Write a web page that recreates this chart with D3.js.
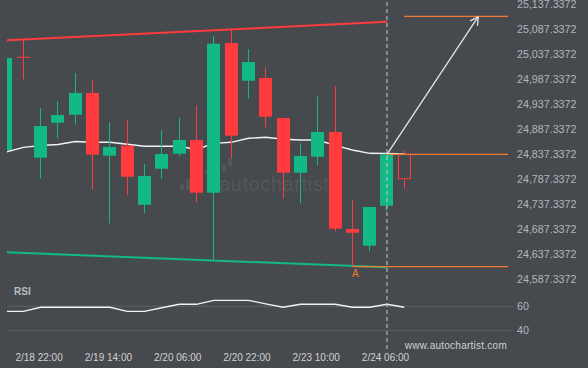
<!DOCTYPE html>
<html>
<head>
<meta charset="utf-8">
<script src="https://cdn.jsdelivr.net/npm/d3@7"></script>
<style>
  html, body { margin: 0; padding: 0; background: #46494e; }
  svg { display: block; font-family: "Liberation Sans", Arial, sans-serif; }
</style>
</head>
<body>
<div id="chart"></div>
<script>
// Chart data (4h candles, index = candle position)
const opens  = [24845.9, 25031.3, 24830.5, 24900.5, 24916.5, 24959.9, 24834.5, 24854.5, 24736.5, 24808.5, 24838.5, 24865.9,
                24760.5, 25059.9, 24984.5, 24989.9, 24909.9, 24800.5, 24832.5, 24881.9, 24687.9, 24654.5, 24734.5, 24837.3];
const highs  = [25029.9, 25065.9, 24929.9, 24943.9, 24999.9, 24987.3, 24901.3, 24905.3, 24817.9, 24885.9, 24909.9, 24935.3,
                25073.9, 25087.3, 25047.3, 25011.3, 24910.5, 24859.3, 24953.3, 24973.3, 24745.3, 24732.5, 24838.5, 24844.5];
const lows   = [24845.9, 24987.3, 24789.3, 24869.3, 24897.3, 24767.3, 24699.3, 24755.3, 24719.3, 24789.3, 24833.3, 24741.3,
                24627.3, 24828.5, 24948.5, 24891.3, 24748.5, 24739.3, 24815.3, 24683.3, 24612.5, 24643.3, 24724.5, 24768.5];
const closes = [25029.9, 25031.3, 24893.9, 24915.9, 24959.9, 24836.5, 24851.9, 24792.5, 24793.9, 24837.9, 24865.9, 24760.5,
                25058.5, 24874.5, 25021.9, 24912.5, 24800.5, 24833.9, 24881.9, 24688.5, 24680.5, 24731.9, 24837.3, 24788.5];
const maValues = [24841.9, 24851.3, 24854.9, 24856.9, 24862.9, 24861.3, 24861.3, 24857.3, 24853.3, 24853.3, 24853.3, 24846.9,
                  24859.3, 24861.3, 24869.3, 24871.3, 24867.3, 24865.9, 24865.9, 24855.3, 24845.9, 24839.3, 24838.9, 24838.0];
const rsiValues = [55.8, 55.8, 59.2, 59.2, 59.2, 59.2, 59.2, 55.8, 55.8, 58.8, 61.7, 61.7,
                   65.0, 65.0, 65.0, 62.1, 59.2, 61.7, 61.7, 61.7, 59.2, 59.2, 61.7, 59.2];

const priceTicks = [25137.3372, 25087.3372, 25037.3372, 24987.3372, 24937.3372, 24887.3372,
                    24837.3372, 24787.3372, 24737.3372, 24687.3372, 24637.3372, 24587.3372];
const rsiTicks = [60, 40];
const timeLabels = ['2/18 22:00', '2/19 14:00', '2/20 06:00', '2/20 22:00', '2/23 10:00', '2/24 06:00'];
const timeLabelIdx = [2, 6, 10, 14, 18, 22];

// Channel lines [index, price]
const resistance = [[0, 25065.2], [22, 25102.5]];
const support = [[0, 24641.4], [22, 24611.3]];
// Pattern levels (orange) [fromIndex, toIndex, price]
const levels = [[22, 29, 24837.3372], [23, 29, 25113.3], [20, 29, 24612.5]];
const forecast = [[22, 24837.3372], [27.27, 25112.5]];
const breakIdx = 22;
const pointA = [20, 24612.5];

const W = 588, H = 368;
const bg = '#46494e';
const green = '#12b886', red = '#ff3b3e', orange = '#f27b34';

const svg = d3.select('#chart').append('svg').attr('width', W).attr('height', H);
svg.append('rect').attr('width', W).attr('height', H).attr('fill', bg);

const x = d3.scaleLinear().domain([0, 29]).range([5.98, 508.2]);
const y = d3.scaleLinear().domain([24587.3372, 25137.3372]).range([279.3, 4.3]);
const yr = d3.scaleLinear().domain([40, 60]).range([330.3, 306.3]);

svg.append('clipPath').attr('id', 'plot').append('rect')
  .attr('x', 7).attr('y', 0).attr('width', 506).attr('height', 290);
const plot = svg.append('g').attr('clip-path', 'url(#plot)');

// Watermark
const wm = plot.append('g').attr('fill', '#53575c');
[[180, 184, 4, 6], [186, 179, 4, 11], [205, 170, 4, 5], [222, 165, 4, 7], [228, 158, 4, 8]].forEach(b => {
  wm.append('rect').attr('x', b[0]).attr('y', b[1]).attr('width', b[2]).attr('height', b[3]);
});
wm.append('text').attr('x', 219).attr('y', 191).attr('font-size', 20).attr('letter-spacing', 0.6)
  .text('autochartist');

// Price axis labels
svg.append('g').selectAll('text').data(priceTicks).enter().append('text')
  .attr('x', 517).attr('y', d => y(d)).attr('dy', '0.35em')
  .attr('font-size', 10.7).attr('fill', '#b3b7bb')
  .text(d => d3.format(',.4f')(d));

// Channel lines
const lineIdx = d3.line().x(d => x(d[0])).y(d => y(d[1]));
plot.append('path').datum(resistance).attr('d', lineIdx)
  .attr('fill', 'none').attr('stroke', red).attr('stroke-width', 2);
plot.append('path').datum(support).attr('d', lineIdx)
  .attr('fill', 'none').attr('stroke', green).attr('stroke-width', 2);

// Moving average
plot.append('path').datum(maValues)
  .attr('d', d3.line().x((d, i) => x(i)).y(d => y(d)))
  .attr('fill', 'none').attr('stroke', '#f2f2f2').attr('stroke-width', 1.4);

// Candles
const candles = opens.map((o, i) => ({ i, o, h: highs[i], l: lows[i], c: closes[i] }));
const cg = plot.selectAll('.candle').data(candles).enter().append('g').attr('class', 'candle');
const last = candles.length - 1;
cg.each(function (d) {
  const g = d3.select(this);
  const col = d.c >= d.o && d.c !== d.o ? green : red;
  const left = Math.round(x(d.i) - 6.5);
  const mid = left + 6.5;
  g.append('line').attr('x1', mid).attr('x2', mid).attr('y1', y(d.h)).attr('y2', y(d.l))
    .attr('stroke', col).attr('stroke-width', 1);
  const top = y(Math.max(d.o, d.c)), bot = y(Math.min(d.o, d.c));
  if (d.i === last) {
    g.append('rect').attr('x', left + 0.5).attr('y', top).attr('width', 12).attr('height', bot - top)
      .attr('fill', bg).attr('stroke', col).attr('stroke-width', 1);
  } else if (bot - top < 1) {
    g.append('line').attr('x1', left).attr('x2', left + 13).attr('y1', top).attr('y2', top)
      .attr('stroke', col).attr('stroke-width', 1);
  } else {
    g.append('rect').attr('x', left).attr('y', top).attr('width', 13).attr('height', bot - top)
      .attr('fill', col);
  }
});

// Orange pattern levels
svg.append('g').selectAll('line').data(levels).enter().append('line')
  .attr('x1', d => x(d[0])).attr('x2', d => x(d[1]))
  .attr('y1', d => y(d[2])).attr('y2', d => y(d[2]))
  .attr('stroke', orange).attr('stroke-width', 1.3);

// Forecast arrow
const ax0 = x(forecast[0][0]), ay0 = y(forecast[0][1]);
const ax1 = x(forecast[1][0]), ay1 = y(forecast[1][1]);
const ang = Math.atan2(ay1 - ay0, ax1 - ax0);
const arrow = svg.append('g').attr('stroke', '#e6e6e6').attr('stroke-width', 1.3).attr('fill', 'none');
arrow.append('line').attr('x1', ax0).attr('y1', ay0).attr('x2', ax1).attr('y2', ay1);
[-0.5, 0.5].forEach(s => {
  arrow.append('line').attr('x1', ax1).attr('y1', ay1)
    .attr('x2', ax1 - 9 * Math.cos(ang + s)).attr('y2', ay1 - 9 * Math.sin(ang + s));
});

// Point A label
svg.append('text').attr('x', x(pointA[0]) + 3).attr('y', y(pointA[1]) + 10)
  .attr('text-anchor', 'middle').attr('font-size', 10).attr('fill', orange).text('A');

// RSI panel
svg.append('text').attr('x', 14).attr('y', 295).attr('font-size', 10).attr('font-weight', 'bold')
  .attr('fill', '#b8bcc4').text('RSI');
svg.append('g').selectAll('line').data(rsiTicks).enter().append('line')
  .attr('x1', 7).attr('x2', 513).attr('y1', d => yr(d)).attr('y2', d => yr(d))
  .attr('stroke', '#5d6166').attr('stroke-width', 1);
svg.append('g').selectAll('text').data(rsiTicks).enter().append('text')
  .attr('x', 517).attr('y', d => yr(d)).attr('dy', '0.35em')
  .attr('font-size', 10.7).attr('fill', '#b3b7bb').text(d => d);
svg.append('path').datum(rsiValues)
  .attr('d', d3.line().x((d, i) => Math.max(7, x(i))).y(d => yr(d)))
  .attr('fill', 'none').attr('stroke', '#f2f2f2').attr('stroke-width', 1.3);

// Break vertical line
svg.append('line').attr('x1', x(breakIdx)).attr('x2', x(breakIdx)).attr('y1', 2).attr('y2', 350)
  .attr('stroke', '#c9c9c9').attr('stroke-width', 1).attr('stroke-dasharray', '4,3');

// Time labels
svg.append('g').selectAll('text').data(timeLabels).enter().append('text')
  .attr('x', (d, i) => x(timeLabelIdx[i]) - 1.5).attr('y', 357).attr('dy', '0.35em')
  .attr('text-anchor', 'middle').attr('font-size', 10).attr('fill', '#d2d2d2').text(d => d);

svg.append('text').attr('x', 507).attr('y', 345).attr('dy', '0.35em').attr('text-anchor', 'end')
  .attr('font-size', 10).attr('letter-spacing', 0.25).attr('fill', '#cfcfcf').text('www.autochartist.com');
</script>
</body>
</html>
